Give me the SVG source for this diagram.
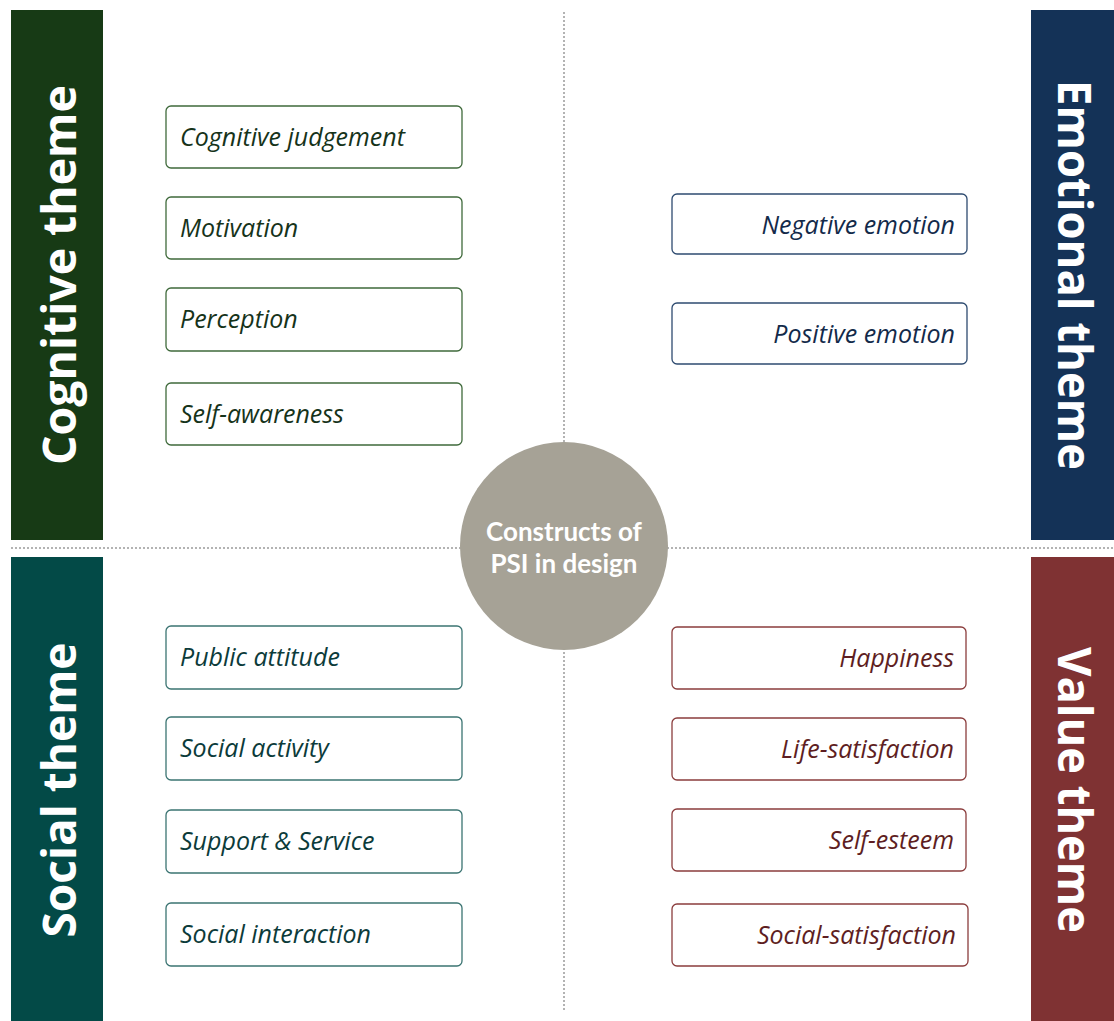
<svg xmlns="http://www.w3.org/2000/svg" width="1114" height="1021" viewBox="0 0 1114 1021">
<style>
.bar-t{font-family:"Open Sans","Liberation Sans",sans-serif;font-weight:700;font-size:46px;fill:#ffffff;text-anchor:middle}
.box{fill:#ffffff;stroke-width:1.3}
.lbl{font-family:"Open Sans","Liberation Sans",sans-serif;font-style:italic;font-weight:500;font-size:25px}
.g .box{stroke:#3f6a3b}.g .lbl{fill:#16331a}
.n .box{stroke:#2e4b70}.n .lbl{fill:#132a4a}
.t .box{stroke:#3b7472}.t .lbl{fill:#0c3b3a}
.m .box{stroke:#8b3d3d}.m .lbl{fill:#5e1e22}
.r .lbl{text-anchor:end}
.dot{stroke:#9a9a9a;stroke-width:1.5;stroke-dasharray:2 2;fill:none}
.ctr{font-family:"Lato","Open Sans","Liberation Sans",sans-serif;font-weight:700;font-size:26px;fill:#ffffff;text-anchor:middle}
</style>
<rect width="1114" height="1021" fill="#ffffff"/>
<g id="connectors">
<line class="dot" x1="11" y1="548" x2="1114" y2="548"/>
<line class="dot" x1="564" y1="12" x2="564" y2="1010"/>
</g>
<g id="cognitive-theme">
<rect x="11" y="10" width="92" height="530" fill="#173a15"/>
<text class="bar-t" transform="translate(76,275) rotate(-90)" textLength="380" lengthAdjust="spacingAndGlyphs">Cognitive theme</text>
</g>
<g id="emotional-theme">
<rect x="1031" y="10" width="83" height="530" fill="#143257"/>
<text class="bar-t" transform="translate(1058,275) rotate(90)" textLength="390" lengthAdjust="spacingAndGlyphs">Emotional theme</text>
</g>
<g id="social-theme">
<rect x="11" y="557" width="92" height="464" fill="#034a47"/>
<text class="bar-t" transform="translate(76,790) rotate(-90)" textLength="295" lengthAdjust="spacingAndGlyphs">Social theme</text>
</g>
<g id="value-theme">
<rect x="1031" y="557" width="83" height="464" fill="#7f3233"/>
<text class="bar-t" transform="translate(1058,790) rotate(90)" textLength="286" lengthAdjust="spacingAndGlyphs">Value theme</text>
</g>
<g id="cognitive-judgement" class="g"><rect class="box" x="166" y="106" width="296" height="62" rx="5"/><text class="lbl" x="180" y="146">Cognitive judgement</text></g>
<g id="motivation" class="g"><rect class="box" x="166" y="197" width="296" height="62" rx="5"/><text class="lbl" x="180" y="237">Motivation</text></g>
<g id="perception" class="g"><rect class="box" x="166" y="288" width="296" height="63" rx="5"/><text class="lbl" x="180" y="328">Perception</text></g>
<g id="self-awareness" class="g"><rect class="box" x="166" y="383" width="296" height="62" rx="5"/><text class="lbl" x="180" y="423">Self-awareness</text></g>
<g id="negative-emotion" class="n r"><rect class="box" x="672" y="194" width="295" height="60" rx="5"/><text class="lbl" x="955" y="234">Negative emotion</text></g>
<g id="positive-emotion" class="n r"><rect class="box" x="672" y="303" width="295" height="61" rx="5"/><text class="lbl" x="955" y="343">Positive emotion</text></g>
<g id="public-attitude" class="t"><rect class="box" x="166" y="626" width="296" height="63" rx="5"/><text class="lbl" x="180" y="666">Public attitude</text></g>
<g id="social-activity" class="t"><rect class="box" x="166" y="717" width="296" height="63" rx="5"/><text class="lbl" x="180" y="757">Social activity</text></g>
<g id="support-service" class="t"><rect class="box" x="166" y="810" width="296" height="63" rx="5"/><text class="lbl" x="180" y="850">Support &amp; Service</text></g>
<g id="social-interaction" class="t"><rect class="box" x="166" y="903" width="296" height="63" rx="5"/><text class="lbl" x="180" y="943">Social interaction</text></g>
<g id="happiness" class="m r"><rect class="box" x="672" y="627" width="294" height="62" rx="5"/><text class="lbl" x="954" y="667">Happiness</text></g>
<g id="life-satisfaction" class="m r"><rect class="box" x="672" y="718" width="294" height="62" rx="5"/><text class="lbl" x="954" y="758">Life-satisfaction</text></g>
<g id="self-esteem" class="m r"><rect class="box" x="672" y="809" width="294" height="62" rx="5"/><text class="lbl" x="954" y="849">Self-esteem</text></g>
<g id="social-satisfaction" class="m r"><rect class="box" x="672" y="904" width="296" height="62" rx="5"/><text class="lbl" x="956" y="944">Social-satisfaction</text></g>
<g id="center">
<circle cx="564" cy="546" r="104" fill="#a6a296"/>
<text class="ctr" x="564" y="541">Constructs of</text>
<text class="ctr" x="564" y="573">PSI in design</text>
</g>
</svg>
